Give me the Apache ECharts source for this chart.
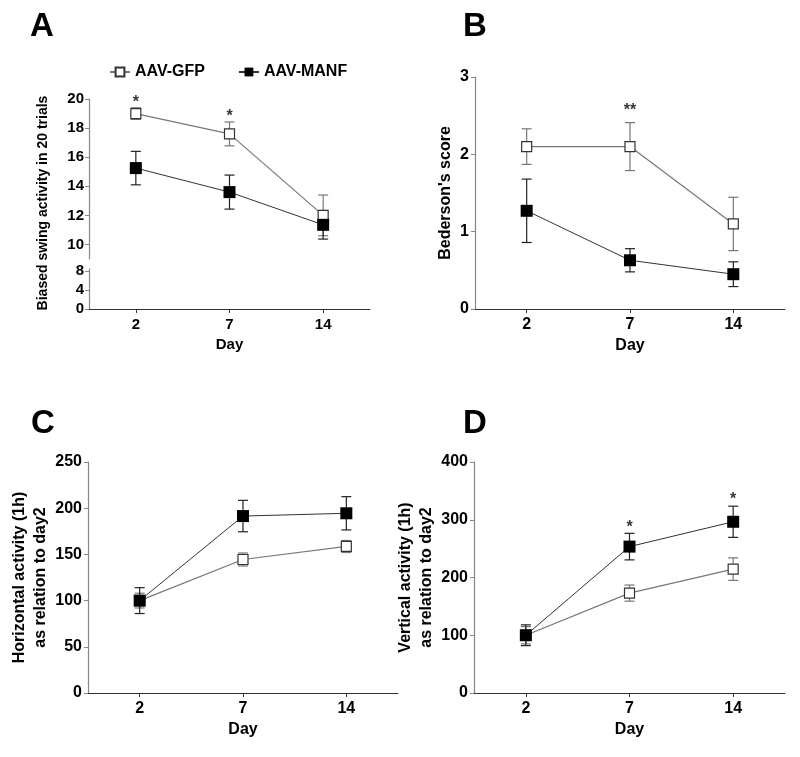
<!DOCTYPE html>
<html>
<head>
<meta charset="utf-8">
<script src="https://cdn.jsdelivr.net/npm/echarts@6/dist/echarts.min.js"></script>
<style>
html,body{margin:0;padding:0;background:#fff;}
#chart{width:800px;height:757px;}
</style>
</head>
<body>
<div id="chart"></div>
<script>
// ---------- data ----------
const days = ['2', '7', '14'];
const seriesNames = ['AAV-GFP', 'AAV-MANF'];

// Panel A: Biased swing activity in 20 trials
const swingGFP = [19.0, 17.6, 12.0];
const swingGFPErr = [0.4, 0.82, 1.4];
const swingMANF = [15.25, 13.6, 11.35];
const swingMANFErr = [1.15, 1.17, 0.98];
const swingUpperTicks = [10, 12, 14, 16, 18, 20];
const swingLowerTicks = [0, 4, 8];
const swingStars = [[0, 19.97, '*'], [1, 18.97, '*']];

// Panel B: Bederson's score
const bedGFP = [2.10, 2.10, 1.10];
const bedGFPErr = [0.23, 0.31, 0.345];
const bedMANF = [1.27, 0.63, 0.45];
const bedMANFErr = [0.41, 0.15, 0.16];
const bedStars = [[1, 2.61, '**']];

// Panel C: Horizontal activity
const horGFP = [100, 144.5, 158.6];
const horGFPErr = [8, 7, 6.5];
const horMANF = [100, 191.5, 194.5];
const horMANFErr = [14, 17, 18];

// Panel D: Vertical activity
const verGFP = [100, 173, 214.5];
const verGFPErr = [15, 14, 19.5];
const verMANF = [100, 253.5, 296.5];
const verMANFErr = [18, 23, 27];
const verStars = [[1, 291.4, '*'], [2, 340.4, '*']];

// ---------- styles ----------
const FONT = 'Arial, "Liberation Sans", Helvetica, sans-serif';
const GFP_LINE = '#777';
const GFP_BORDER = '#333';
const GFP_ERR = '#777';
const MANF_LINE = '#333';
const MANF_ERR = '#222';

function errBars(name, xi, yi, mean, err, color) {
  return {
    type: 'custom', name: name + ' err', xAxisIndex: xi, yAxisIndex: yi, z: 1, silent: true,
    clip: false,
    data: mean.map((m, i) => [i, m - err[i], m + err[i]]),
    renderItem: function (params, api) {
      const lo = api.coord([api.value(0), api.value(1)]);
      const hi = api.coord([api.value(0), api.value(2)]);
      const w = 5;
      const st = { stroke: color, lineWidth: 1.2 };
      return {
        type: 'group', children: [
          { type: 'line', shape: { x1: lo[0], y1: lo[1], x2: hi[0], y2: hi[1] }, style: st },
          { type: 'line', shape: { x1: lo[0] - w, y1: lo[1], x2: lo[0] + w, y2: lo[1] }, style: st },
          { type: 'line', shape: { x1: hi[0] - w, y1: hi[1], x2: hi[0] + w, y2: hi[1] }, style: st }
        ]
      };
    }
  };
}
function gfpLine(xi, yi, data) {
  return {
    type: 'line', name: 'AAV-GFP', xAxisIndex: xi, yAxisIndex: yi, z: 3, data: data,
    symbol: 'rect', symbolSize: 10, showSymbol: true,
    lineStyle: { color: GFP_LINE, width: 1.2 },
    itemStyle: { color: '#fff', borderColor: GFP_BORDER, borderWidth: 1.2 },
    emphasis: { disabled: true }, animation: false
  };
}
function manfLine(xi, yi, data) {
  return {
    type: 'line', name: 'AAV-MANF', xAxisIndex: xi, yAxisIndex: yi, z: 4, data: data,
    symbol: 'rect', symbolSize: 12, showSymbol: true,
    lineStyle: { color: MANF_LINE, width: 1 },
    itemStyle: { color: '#000', borderColor: '#000', borderWidth: 0 },
    emphasis: { disabled: true }, animation: false
  };
}
function stars(xi, yi, data) {
  return {
    type: 'scatter', xAxisIndex: xi, yAxisIndex: yi, z: 5, symbolSize: 0, silent: true,
    data: data.map(d => ({ value: [d[0], d[1]], label: { formatter: d[2] } })),
    label: { show: true, position: 'inside', color: '#000', fontSize: 16, fontWeight: 'bold', fontFamily: FONT, offset: [0, 3] }
  };
}
function xAx(grid, fs, show, gap) {
  return {
    type: 'category', gridIndex: grid, data: days, boundaryGap: true,
    show: show,
    axisLine: { show: show, lineStyle: { color: '#333', width: 1 } },
    axisTick: { show: show, alignWithLabel: true, length: 4, lineStyle: { color: '#333' } },
    axisLabel: { show: show, fontWeight: 'bold', fontSize: fs, color: '#000', margin: 8, fontFamily: FONT },
    splitLine: { show: false },
    name: show ? 'Day' : '', nameLocation: 'middle', nameGap: gap,
    nameTextStyle: { fontWeight: 'bold', fontSize: fs, color: '#000', fontFamily: FONT }
  };
}
function yAx(grid, min, max, interval, fs, name, nameGap, extra) {
  const a = {
    type: 'value', gridIndex: grid, min: min, max: max,
    axisLine: { show: true, lineStyle: { color: '#888', width: 1.2 } },
    axisTick: { show: true, length: 4, lineStyle: { color: '#888' } },
    axisLabel: { fontWeight: 'bold', fontSize: fs, color: '#000', margin: 6, fontFamily: FONT },
    splitLine: { show: false },
    name: name || '', nameLocation: 'middle', nameRotate: 90, nameGap: nameGap || 0,
    nameTextStyle: { fontWeight: 'bold', fontSize: 16, color: '#000', fontFamily: FONT, lineHeight: 21 }
  };
  if (interval) a.interval = interval;
  return Object.assign(a, extra || {});
}

const option = {
  backgroundColor: '#fff',
  animation: false,
  legend: {
    data: seriesNames, left: 104, top: 59, itemGap: 33, itemWidth: 20, itemHeight: 11,
    textStyle: { fontWeight: 'bold', fontSize: 16, color: '#000', fontFamily: FONT },
    selectedMode: false
  },
  grid: [
    { left: 89, top: 99, width: 281, height: 160 },   // A upper
    { left: 89, top: 269, width: 281, height: 40 },   // A lower
    { left: 475, top: 77, width: 310, height: 232 },  // B
    { left: 88, top: 462, width: 310, height: 231 },  // C
    { left: 474, top: 462, width: 311, height: 231 }  // D
  ],
  xAxis: [
    xAx(0, 15, false, 28),
    xAx(1, 15, true, 28),
    xAx(2, 16, true, 29),
    xAx(3, 16, true, 29),
    xAx(4, 16, true, 29)
  ],
  yAxis: [
    yAx(0, 9, 20, null, 15, '', 0, {
      axisLabel: { fontWeight: 'bold', fontSize: 15, color: '#000', margin: 5, fontFamily: FONT, customValues: swingUpperTicks },
      axisTick: { show: true, length: 4, lineStyle: { color: '#888' }, customValues: swingUpperTicks }
    }),
    yAx(1, 0, 8.42, null, 15, '', 0, {
      axisLabel: { fontWeight: 'bold', fontSize: 15, color: '#000', margin: 5, fontFamily: FONT, customValues: swingLowerTicks },
      axisTick: { show: true, length: 4, lineStyle: { color: '#888' }, customValues: swingLowerTicks }
    }),
    yAx(2, 0, 3, 1, 16, "Bederson's score", 18),
    yAx(3, 0, 250, 50, 16, 'Horizontal activity (1h)\nas relation to day2', 36),
    yAx(4, 0, 400, 100, 16, 'Vertical activity (1h)\nas relation to day2', 34)
  ],
  graphic: [
    { type: 'text', x: 30, y: 27, style: { text: 'A', font: 'bold 33px ' + FONT, fill: '#000', textAlign: 'left', textVerticalAlign: 'middle' } },
    { type: 'text', x: 463, y: 27, style: { text: 'B', font: 'bold 33px ' + FONT, fill: '#000', textAlign: 'left', textVerticalAlign: 'middle' } },
    { type: 'text', x: 31, y: 424, style: { text: 'C', font: 'bold 33px ' + FONT, fill: '#000', textAlign: 'left', textVerticalAlign: 'middle' } },
    { type: 'text', x: 463, y: 424, style: { text: 'D', font: 'bold 33px ' + FONT, fill: '#000', textAlign: 'left', textVerticalAlign: 'middle' } },
    { type: 'text', x: 43, y: 203, rotation: Math.PI / 2, style: { text: 'Biased swing activity in 20 trials', font: 'bold 14px ' + FONT, fill: '#000', textAlign: 'center', textVerticalAlign: 'middle' } }
  ],
  series: [
    errBars('AAV-GFP', 0, 0, swingGFP, swingGFPErr, GFP_ERR),
    errBars('AAV-MANF', 0, 0, swingMANF, swingMANFErr, MANF_ERR),
    gfpLine(0, 0, swingGFP),
    manfLine(0, 0, swingMANF),
    stars(0, 0, swingStars),

    errBars('AAV-GFP', 2, 2, bedGFP, bedGFPErr, GFP_ERR),
    errBars('AAV-MANF', 2, 2, bedMANF, bedMANFErr, MANF_ERR),
    gfpLine(2, 2, bedGFP),
    manfLine(2, 2, bedMANF),
    stars(2, 2, bedStars),

    errBars('AAV-GFP', 3, 3, horGFP, horGFPErr, GFP_ERR),
    errBars('AAV-MANF', 3, 3, horMANF, horMANFErr, MANF_ERR),
    gfpLine(3, 3, horGFP),
    manfLine(3, 3, horMANF),

    errBars('AAV-GFP', 4, 4, verGFP, verGFPErr, GFP_ERR),
    errBars('AAV-MANF', 4, 4, verMANF, verMANFErr, MANF_ERR),
    gfpLine(4, 4, verGFP),
    manfLine(4, 4, verMANF),
    stars(4, 4, verStars)
  ]
};

const chart = echarts.init(document.getElementById('chart'), null, { renderer: 'canvas' });
chart.setOption(option);
</script>
</body>
</html>
